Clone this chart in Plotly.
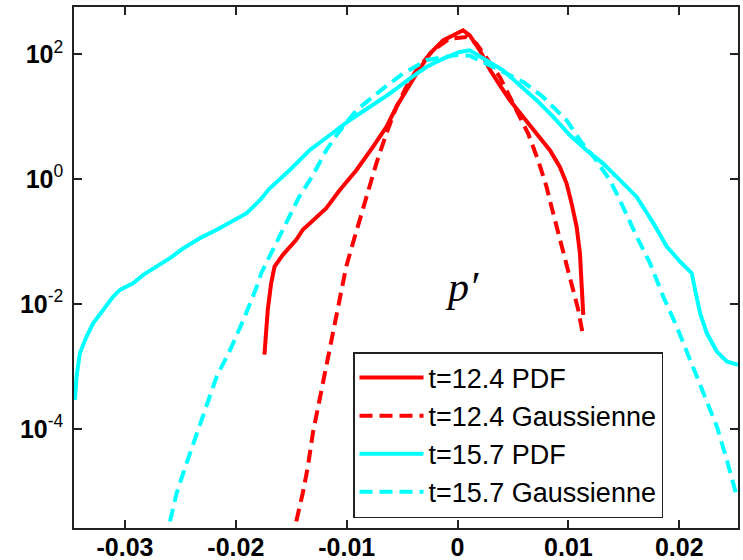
import plotly.graph_objects as go

# ---- data ----
red_pdf_x = [-0.01742, -0.01726, -0.01712, -0.01681, -0.01651, -0.01576, -0.01455, -0.01396,
             -0.01305, -0.01184, -0.01064, -0.00913, -0.00763, -0.00642, -0.00552, -0.00462,
             -0.00371, -0.00251, -0.00131, 0.00050, 0.00110, 0.00201, 0.00291, 0.00381,
             0.00472, 0.00592, 0.00713, 0.00833, 0.00923, 0.00984, 0.01029, 0.01074,
             0.01104, 0.01119, 0.01134]
red_pdf_y = [1.55e-3, 3.44e-3, 8.11e-3, 2.17e-2, 4.0e-2, 6.15e-2, 0.107, 0.155,
             0.223, 0.344, 0.667, 1.39, 3.29, 6.87, 14.3, 26.5,
             49.0, 102, 167, 242, 201, 116, 57, 32.0,
             18.4, 9.93, 5.37, 2.91, 1.57, 0.851, 0.407, 0.175,
             6.55e-2, 2.17e-2, 6.75e-3]

red_gauss_x = [-0.01455, -0.01396, -0.01350, -0.01305, -0.01245, -0.01184, -0.01139, -0.01094,
               -0.01049, -0.01004, -0.00944, -0.00883, -0.00823, -0.00733, -0.00642, -0.00552,
               -0.00462, -0.00371, -0.00221, -0.00070, 0.00080, 0.00171, 0.00381, 0.00501,
               0.00637, 0.00727, 0.00803, 0.00848, 0.00893, 0.00953, 0.01029, 0.01089, 0.01128]
red_gauss_y = [3.33e-6, 9.46e-6, 2.52e-5, 8.63e-5, 2.94e-4, 1.0e-3, 2.69e-3, 7.18e-3,
               1.69e-2, 4.0e-2, 9.46e-2, 0.223, 0.461, 1.78, 5.37, 14.3,
               30.0, 55.5, 116, 178, 189, 148, 43.4, 16.2,
               5.37, 2.01, 0.753, 0.360, 0.175, 6.55e-2, 2.17e-2, 8.11e-3, 3.44e-3]

cyan_pdf_x = [-0.03452, -0.03437, -0.03407, -0.03347, -0.03286, -0.03196, -0.03106, -0.03045,
              -0.02925, -0.02835, -0.02715, -0.02594, -0.02473, -0.02322, -0.02173, -0.02022,
              -0.01902, -0.01780, -0.01696, -0.01516, -0.01335, -0.01154, -0.00974, -0.00793,
              -0.00612, -0.00432, -0.00281, -0.00131, 0.00020, 0.00110, 0.00261, 0.00411,
              0.00562, 0.00713, 0.00863, 0.01014, 0.01164, 0.01314, 0.01465, 0.01616,
              0.01766, 0.01887, 0.02007, 0.02113, 0.02143, 0.02188, 0.02248, 0.02339,
              0.02429, 0.02531]
cyan_pdf_y = [2.94e-4, 6.95e-4, 1.64e-3, 3.03e-3, 4.97e-3, 8.11e-3, 1.32e-2, 1.69e-2,
              2.17e-2, 2.94e-2, 4.0e-2, 5.45e-2, 7.87e-2, 0.114, 0.155, 0.223,
              0.286, 0.467, 0.708, 1.39, 2.91, 5.06, 8.79, 14.3,
              23.4, 40.7, 62.6, 85.1, 108.8, 115.8, 80.2, 55.5,
              31.9, 18.4, 9.93, 5.06, 2.91, 1.78, 0.964, 0.521,
              0.198, 8.35e-2, 4.81e-2, 3.13e-2, 1.69e-2, 7.18e-3, 3.44e-3, 1.74e-3,
              1.21e-3, 1.07e-3]

cyan_gauss_x = [-0.02594, -0.02534, -0.02444, -0.02353, -0.02263, -0.02173, -0.02051, -0.01931,
                -0.01811, -0.01771, -0.01432, -0.01305, -0.01184, -0.01070, -0.00913, -0.00673,
                -0.00492, -0.00278, -0.00007, 0.00110, 0.00381, 0.00592, 0.00772, 0.00984,
                0.01104, 0.01239, 0.01375, 0.01465, 0.01616, 0.01736, 0.01856, 0.01977,
                0.02098, 0.02218, 0.02339, 0.02429, 0.02519]
cyan_gauss_y = [3.33e-6, 9.46e-6, 2.86e-5, 8.63e-5, 2.30e-4, 6.95e-4, 1.86e-3, 5.61e-3,
                1.91e-2, 3.13e-2, 0.508, 1.16, 2.91, 5.71, 12.7, 28.2,
                49.0, 81.1, 97.4, 95, 55.5, 36.1, 20.7, 8.79,
                4.21, 2.14, 0.964, 0.461, 0.121, 4.53e-2, 1.32e-2, 4.38e-3,
                1.28e-3, 3.77e-4, 1.10e-4, 3.23e-5, 8.35e-6]

series_names = ["t=12.4 PDF", "t=12.4 Gaussienne", "t=15.7 PDF", "t=15.7 Gaussienne"]

x_tickvals = [-0.03, -0.02, -0.01, 0, 0.01, 0.02]
x_ticktext = ["-0.03", "-0.02", "-0.01", "0", "0.01", "0.02"]
y_tickvals = [1e-4, 1e-2, 1, 1e2]
y_ticktext = ["<b>10</b><sup>-4</sup>", "<b>10</b><sup>-2</sup>",
              "<b>10</b><sup>0</sup>", "<b>10</b><sup>2</sup>"]

RED = "#FF0000"
CYAN = "#00FFFF"
LW = 4
DASH = "13px,7px"

fig = go.Figure()
fig.add_trace(go.Scatter(x=red_pdf_x, y=red_pdf_y, mode="lines", name=series_names[0],
                         line=dict(color=RED, width=LW)))
fig.add_trace(go.Scatter(x=red_gauss_x, y=red_gauss_y, mode="lines", name=series_names[1],
                         line=dict(color=RED, width=LW, dash=DASH)))
fig.add_trace(go.Scatter(x=cyan_pdf_x, y=cyan_pdf_y, mode="lines", name=series_names[2],
                         line=dict(color=CYAN, width=LW)))
fig.add_trace(go.Scatter(x=cyan_gauss_x, y=cyan_gauss_y, mode="lines", name=series_names[3],
                         line=dict(color=CYAN, width=LW, dash=DASH)))

axis_common = dict(
    showline=True, linecolor="#222222", linewidth=1.5, mirror="allticks",
    ticks="inside", ticklen=8, tickwidth=1.5, tickcolor="#222222",
    showgrid=False, zeroline=False, automargin=False,
)

fig.update_layout(
    width=743, height=560, autosize=False,
    margin=dict(l=74, r=5, t=7, b=32, pad=0),
    paper_bgcolor="white", plot_bgcolor="white",
    xaxis=dict(range=[-0.0346, 0.0253], tickvals=x_tickvals, ticktext=x_ticktext,
               tickfont=dict(family="Liberation Sans", size=25, color="black", weight="bold"),
               ticklabelstandoff=-4,
               **axis_common),
    yaxis=dict(type="log", range=[-5.584, 2.757], tickvals=y_tickvals, ticktext=y_ticktext,
               tickfont=dict(family="Liberation Sans", size=25, color="black"),
               ticklabelstandoff=4,
               **axis_common),
    legend=dict(x=0.4202, y=0.3378, xanchor="left", yanchor="top",
                bgcolor="white", bordercolor="#222222", borderwidth=1.5,
                font=dict(family="Liberation Sans", size=27, color="black"),
                itemwidth=64, tracegroupgap=0),
    showlegend=True,
)

fig.add_annotation(text="<i>p′</i>", xref="paper", yref="paper", x=0.585, y=0.462,
                   xanchor="center", yanchor="middle", showarrow=False,
                   font=dict(family="Liberation Serif", size=42, color="black"))

fig.write_html("out.html")
